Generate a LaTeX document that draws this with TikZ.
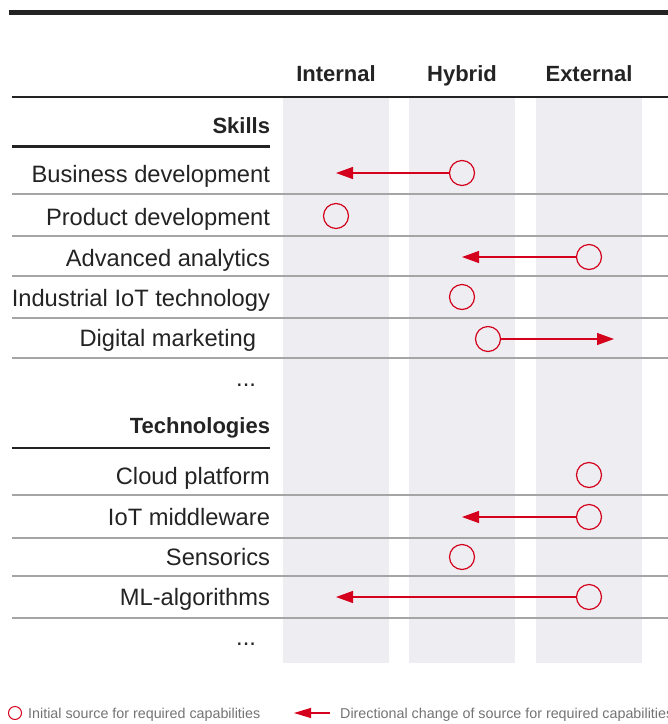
\documentclass[tikz,border=0pt]{standalone}
\usepackage{fontspec}
\setmainfont{Liberation Sans}
\usetikzlibrary{arrows.meta}

\definecolor{pred}{RGB}{213,0,28}
\definecolor{pgray}{RGB}{237,237,242}
\definecolor{pline}{RGB}{165,165,165}
\definecolor{ptext}{RGB}{35,35,35}
\definecolor{plegend}{RGB}{115,115,115}

\tikzstyle{rowtext}  = [anchor=base east, inner sep=0pt, outer sep=0pt, text=ptext, font=\fontsize{23.7}{28}\selectfont]
\tikzstyle{headtext} = [inner sep=0pt, outer sep=0pt, text=ptext, font=\fontsize{22}{26}\selectfont\bfseries]
\tikzstyle{legtext}  = [anchor=base west, inner sep=0pt, text=plegend, font=\fontsize{14.3}{17}\selectfont]
\tikzstyle{src}      = [circle, draw=pred, line width=1.2pt, minimum size=25pt, inner sep=0pt]
\tikzstyle{move}     = [draw=pred, line width=1.2pt, -{Triangle[length=17pt,width=12pt]}]
\tikzstyle{rowline}  = [draw=pline, line width=1.5pt]
\tikzstyle{blackline}= [draw=ptext, line width=2.5pt]

\begin{document}
\begin{tikzpicture}[x=1pt, y=-1pt]
     \useasboundingbox (0,0) rectangle (668,724);
     % source columns
     \foreach \cx in {336,462,589}
       \fill[pgray] (\cx-53,97) rectangle (\cx+53,663);
     \draw[draw=ptext, line width=5pt] (8.5,12.5) -- (668,12.5);
     \draw
       node[headtext, anchor=base] (hint) at (336,81) {Internal}
       node[headtext, anchor=base] (hhyb) at (462,81) {Hybrid}
       node[headtext, anchor=base] (hext) at (589,81) {External};
     \draw[blackline] (11.5,97) -- (668,97);

     % skills
     \draw node[headtext, anchor=base east] (skills) at (270,133) {Skills};
     \draw[blackline] (11.5,146.5) -- (270,146.5);
     \draw
       node[rowtext] (bd)  at (270,182) {Business development}
       node[rowtext] (pd)  at (270,225) {Product development}
       node[rowtext] (aa)  at (270,266) {Advanced analytics}
       node[rowtext] (iot) at (270,306) {Industrial IoT technology}
       node[rowtext] (dm)  at (256,346) {Digital marketing}
       node[rowtext] (skmore) at (256,386) {...};
     \foreach \ly in {194,236,276,318,358}
       \draw[rowline] (11.5,\ly) -- (668,\ly);

     % technologies
     \draw node[headtext, anchor=base east] (tech) at (270,433) {Technologies};
     \draw[blackline] (11.5,448) -- (270,448);
     \draw
       node[rowtext] (cp)  at (270,484) {Cloud platform}
       node[rowtext] (mw)  at (270,525) {IoT middleware}
       node[rowtext] (sen) at (270,565) {Sensorics}
       node[rowtext] (ml)  at (270,605) {ML-algorithms}
       node[rowtext] (tcmore) at (256,645) {...};
     \foreach \ly in {495,538,576,618}
       \draw[rowline] (11.5,\ly) -- (668,\ly);

     % initial sources
     \draw
       node[src] (bdsrc)  at (462,173) {}
       node[src] (pdsrc)  at (336,216) {}
       node[src] (aasrc)  at (589,257) {}
       node[src] (iotsrc) at (462,297) {}
       node[src] (dmsrc)  at (488,339) {}
       node[src] (cpsrc)  at (589,475) {}
       node[src] (mwsrc)  at (589,517) {}
       node[src] (sensrc) at (462,557) {}
       node[src] (mlsrc)  at (589,597) {};

     % directional changes
     \coordinate (bdend) at (336,173);
     \coordinate (aaend) at (462,257);
     \coordinate (dmend) at (614,339);
     \coordinate (mwend) at (462,517);
     \coordinate (mlend) at (336,597);
     \draw[move] (bdsrc) -- (bdend);
     \draw[move] (aasrc) -- (aaend);
     \draw[move] (dmsrc) -- (dmend);
     \draw[move] (mwsrc) -- (mwend);
     \draw[move] (mlsrc) -- (mlend);

     % legend
     \draw
       node[circle, draw=pred, line width=1pt, minimum size=13pt, inner sep=0pt] (legsrc) at (15,713) {}
       node[legtext] (legsrctext) at (28,718) {Initial source for required capabilities};
     \coordinate (legfrom) at (330,713);
     \coordinate (legto) at (294,713);
     \draw[move, -{Triangle[length=17pt,width=10pt]}] (legfrom) -- (legto);
     \draw node[legtext] (legmovetext) at (340,718) {Directional change of source for required capabilities};
\end{tikzpicture}
\end{document}
